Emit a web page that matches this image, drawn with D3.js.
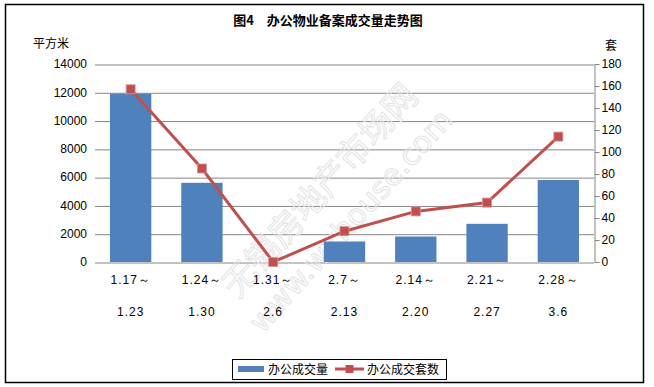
<!DOCTYPE html>
<html lang="zh">
<head>
    <meta charset="UTF-8">
    <title>办公物业备案成交量走势图</title>
    <style>
        body { margin: 0; background: #fff; }
        svg { display: block; }
        .axis text { font-family: "Liberation Sans", "DejaVu Sans", sans-serif; font-size: 12px; fill: #000; }
        .grid line { stroke: #868686; stroke-width: 1px; }
        .grid .domain { display: none; }
        .raxis line, .raxis path { stroke: #868686; }
        .cn { font-family: "Noto Sans CJK SC", sans-serif; fill: #000; }
        .xlab { font-family: "Liberation Sans", "DejaVu Sans", sans-serif; font-size: 12px; letter-spacing: 1px; }
    </style>
    <script src="https://cdn.jsdelivr.net/npm/d3@7"></script>
</head>
<body>
<script>
    // data
    const periodStart = ["1.17～", "1.24～", "1.31～", "2.7～", "2.14～", "2.21～", "2.28～"];
    const periodEnd = ["1.23", "1.30", "2.6", "2.13", "2.20", "2.27", "3.6"];
    const area = [11900, 5600, 0, 1450, 1800, 2700, 5800];   // 办公成交量 (平方米)
    const units = [157, 85, 0, 28, 46, 54, 114];              // 办公成交套数 (套)
    const leftTicks = [0, 2000, 4000, 6000, 8000, 10000, 12000, 14000];
    const rightTicks = [0, 20, 40, 60, 80, 100, 120, 140, 160, 180];

    const width = 654, height = 387;
    const margins = {top: 64, bottom: 125, left: 95, right: 60};

    const svg = d3.select("body").append("svg")
        .attr("width", width)
        .attr("height", height);

    // frame
    svg.append("rect")
        .attr("x", 5.5).attr("y", 4.5)
        .attr("width", 638).attr("height", 378)
        .attr("fill", "#fff")
        .attr("stroke", "#000")
        .attr("stroke-width", 1.5);

    const xScale = d3.scaleBand()
        .domain(d3.range(periodStart.length))
        .range([margins.left, width - margins.right])
        .paddingInner(0.42)
        .paddingOuter(0.21);

    const yLeft = d3.scaleLinear()
        .domain([0, 14000])
        .range([height - margins.bottom, margins.top]);

    const yRight = d3.scaleLinear()
        .domain([0, 180])
        .range([height - margins.bottom, margins.top]);

    const plotW = width - margins.right - margins.left;

    // gridlines + left labels
    svg.append("g")
        .attr("class", "axis grid")
        .attr("transform", `translate(${margins.left},0)`)
        .call(d3.axisLeft(yLeft).tickValues(leftTicks).tickFormat(d3.format("d"))
            .tickSizeInner(-plotW).tickSizeOuter(0).tickPadding(8))
        .selectAll("line").attr("transform", "translate(0,0.5)");

    // right axis
    svg.append("g")
        .attr("class", "axis raxis")
        .attr("transform", `translate(${width - margins.right + 0.5},0)`)
        .call(d3.axisRight(yRight).tickValues(rightTicks).tickSizeInner(5).tickSizeOuter(0).tickPadding(2));

    // watermark
    const wm = svg.append("g")
        .attr("fill", "none")
        .attr("stroke", "#e4e4e4")
        .attr("stroke-width", 1);
    wm.append("text")
        .attr("class", "cn")
        .attr("transform", "translate(322,192) rotate(-48)")
        .attr("text-anchor", "middle")
        .attr("dominant-baseline", "middle")
        .style("font-size", "34px")
        .style("fill", "none")
        .text("无锡房地产市场网");
    wm.append("text")
        .attr("transform", "translate(352,222) rotate(-48)")
        .attr("text-anchor", "middle")
        .attr("dominant-baseline", "middle")
        .style("font-family", "'DejaVu Sans', sans-serif")
        .style("font-size", "30px")
        .text("www.wxhouse.com");

    // bars
    svg.append("g")
        .selectAll("rect")
        .data(area)
        .enter()
        .append("rect")
        .attr("x", (d, i) => xScale(i))
        .attr("y", d => yLeft(d))
        .attr("width", xScale.bandwidth())
        .attr("height", d => yLeft(0) - yLeft(d))
        .attr("fill", "#4F81BD");

    // line
    const cx = i => xScale(i) + xScale.bandwidth() / 2;
    const lineGen = d3.line()
        .x((d, i) => cx(i))
        .y(d => yRight(d));

    svg.append("path")
        .datum(units)
        .attr("d", lineGen)
        .attr("fill", "none")
        .attr("stroke", "#C0504D")
        .attr("stroke-width", 3);

    svg.append("g")
        .selectAll("rect")
        .data(units)
        .enter()
        .append("rect")
        .attr("x", (d, i) => cx(i) - 4.5)
        .attr("y", d => yRight(d) - 4.5)
        .attr("width", 9)
        .attr("height", 9)
        .attr("fill", "#C0504D")
        .attr("stroke", "#D9918F")
        .attr("stroke-width", 0.8);

    // x category labels (two rows)
    const xl = svg.append("g").attr("class", "xlab");
    xl.selectAll(".r1")
        .data(periodStart)
        .enter()
        .append("text")
        .attr("x", (d, i) => cx(i))
        .attr("y", 284)
        .attr("text-anchor", "middle")
        .text(d => d);
    xl.selectAll(".r2")
        .data(periodEnd)
        .enter()
        .append("text")
        .attr("x", (d, i) => cx(i))
        .attr("y", 316)
        .attr("text-anchor", "middle")
        .text(d => d);

    // title and unit labels
    svg.append("text")
        .attr("class", "cn")
        .attr("x", 328).attr("y", 25)
        .attr("text-anchor", "middle")
        .style("font-size", "13px")
        .style("font-weight", "bold")
        .text("图4　办公物业备案成交量走势图");

    svg.append("text")
        .attr("class", "cn")
        .attr("x", 33).attr("y", 48)
        .style("font-size", "12px")
        .text("平方米");

    svg.append("text")
        .attr("class", "cn")
        .attr("x", 605).attr("y", 50)
        .style("font-size", "12px")
        .text("套");

    // legend
    const legend = svg.append("g");
    legend.append("rect")
        .attr("x", 232.5).attr("y", 359.5)
        .attr("width", 214).attr("height", 20)
        .attr("fill", "#fff")
        .attr("stroke", "#000")
        .attr("stroke-width", 1);
    legend.append("rect")
        .attr("x", 238).attr("y", 366)
        .attr("width", 26).attr("height", 6)
        .attr("fill", "#4F81BD");
    legend.append("text")
        .attr("class", "cn")
        .attr("x", 268).attr("y", 374)
        .style("font-size", "12px")
        .text("办公成交量");
    legend.append("line")
        .attr("x1", 335).attr("x2", 364)
        .attr("y1", 369).attr("y2", 369)
        .attr("stroke", "#C0504D")
        .attr("stroke-width", 3);
    legend.append("rect")
        .attr("x", 345.5).attr("y", 365)
        .attr("width", 8).attr("height", 8)
        .attr("fill", "#C0504D");
    legend.append("text")
        .attr("class", "cn")
        .attr("x", 367).attr("y", 374)
        .style("font-size", "12px")
        .text("办公成交套数");
</script>
</body>
</html>
